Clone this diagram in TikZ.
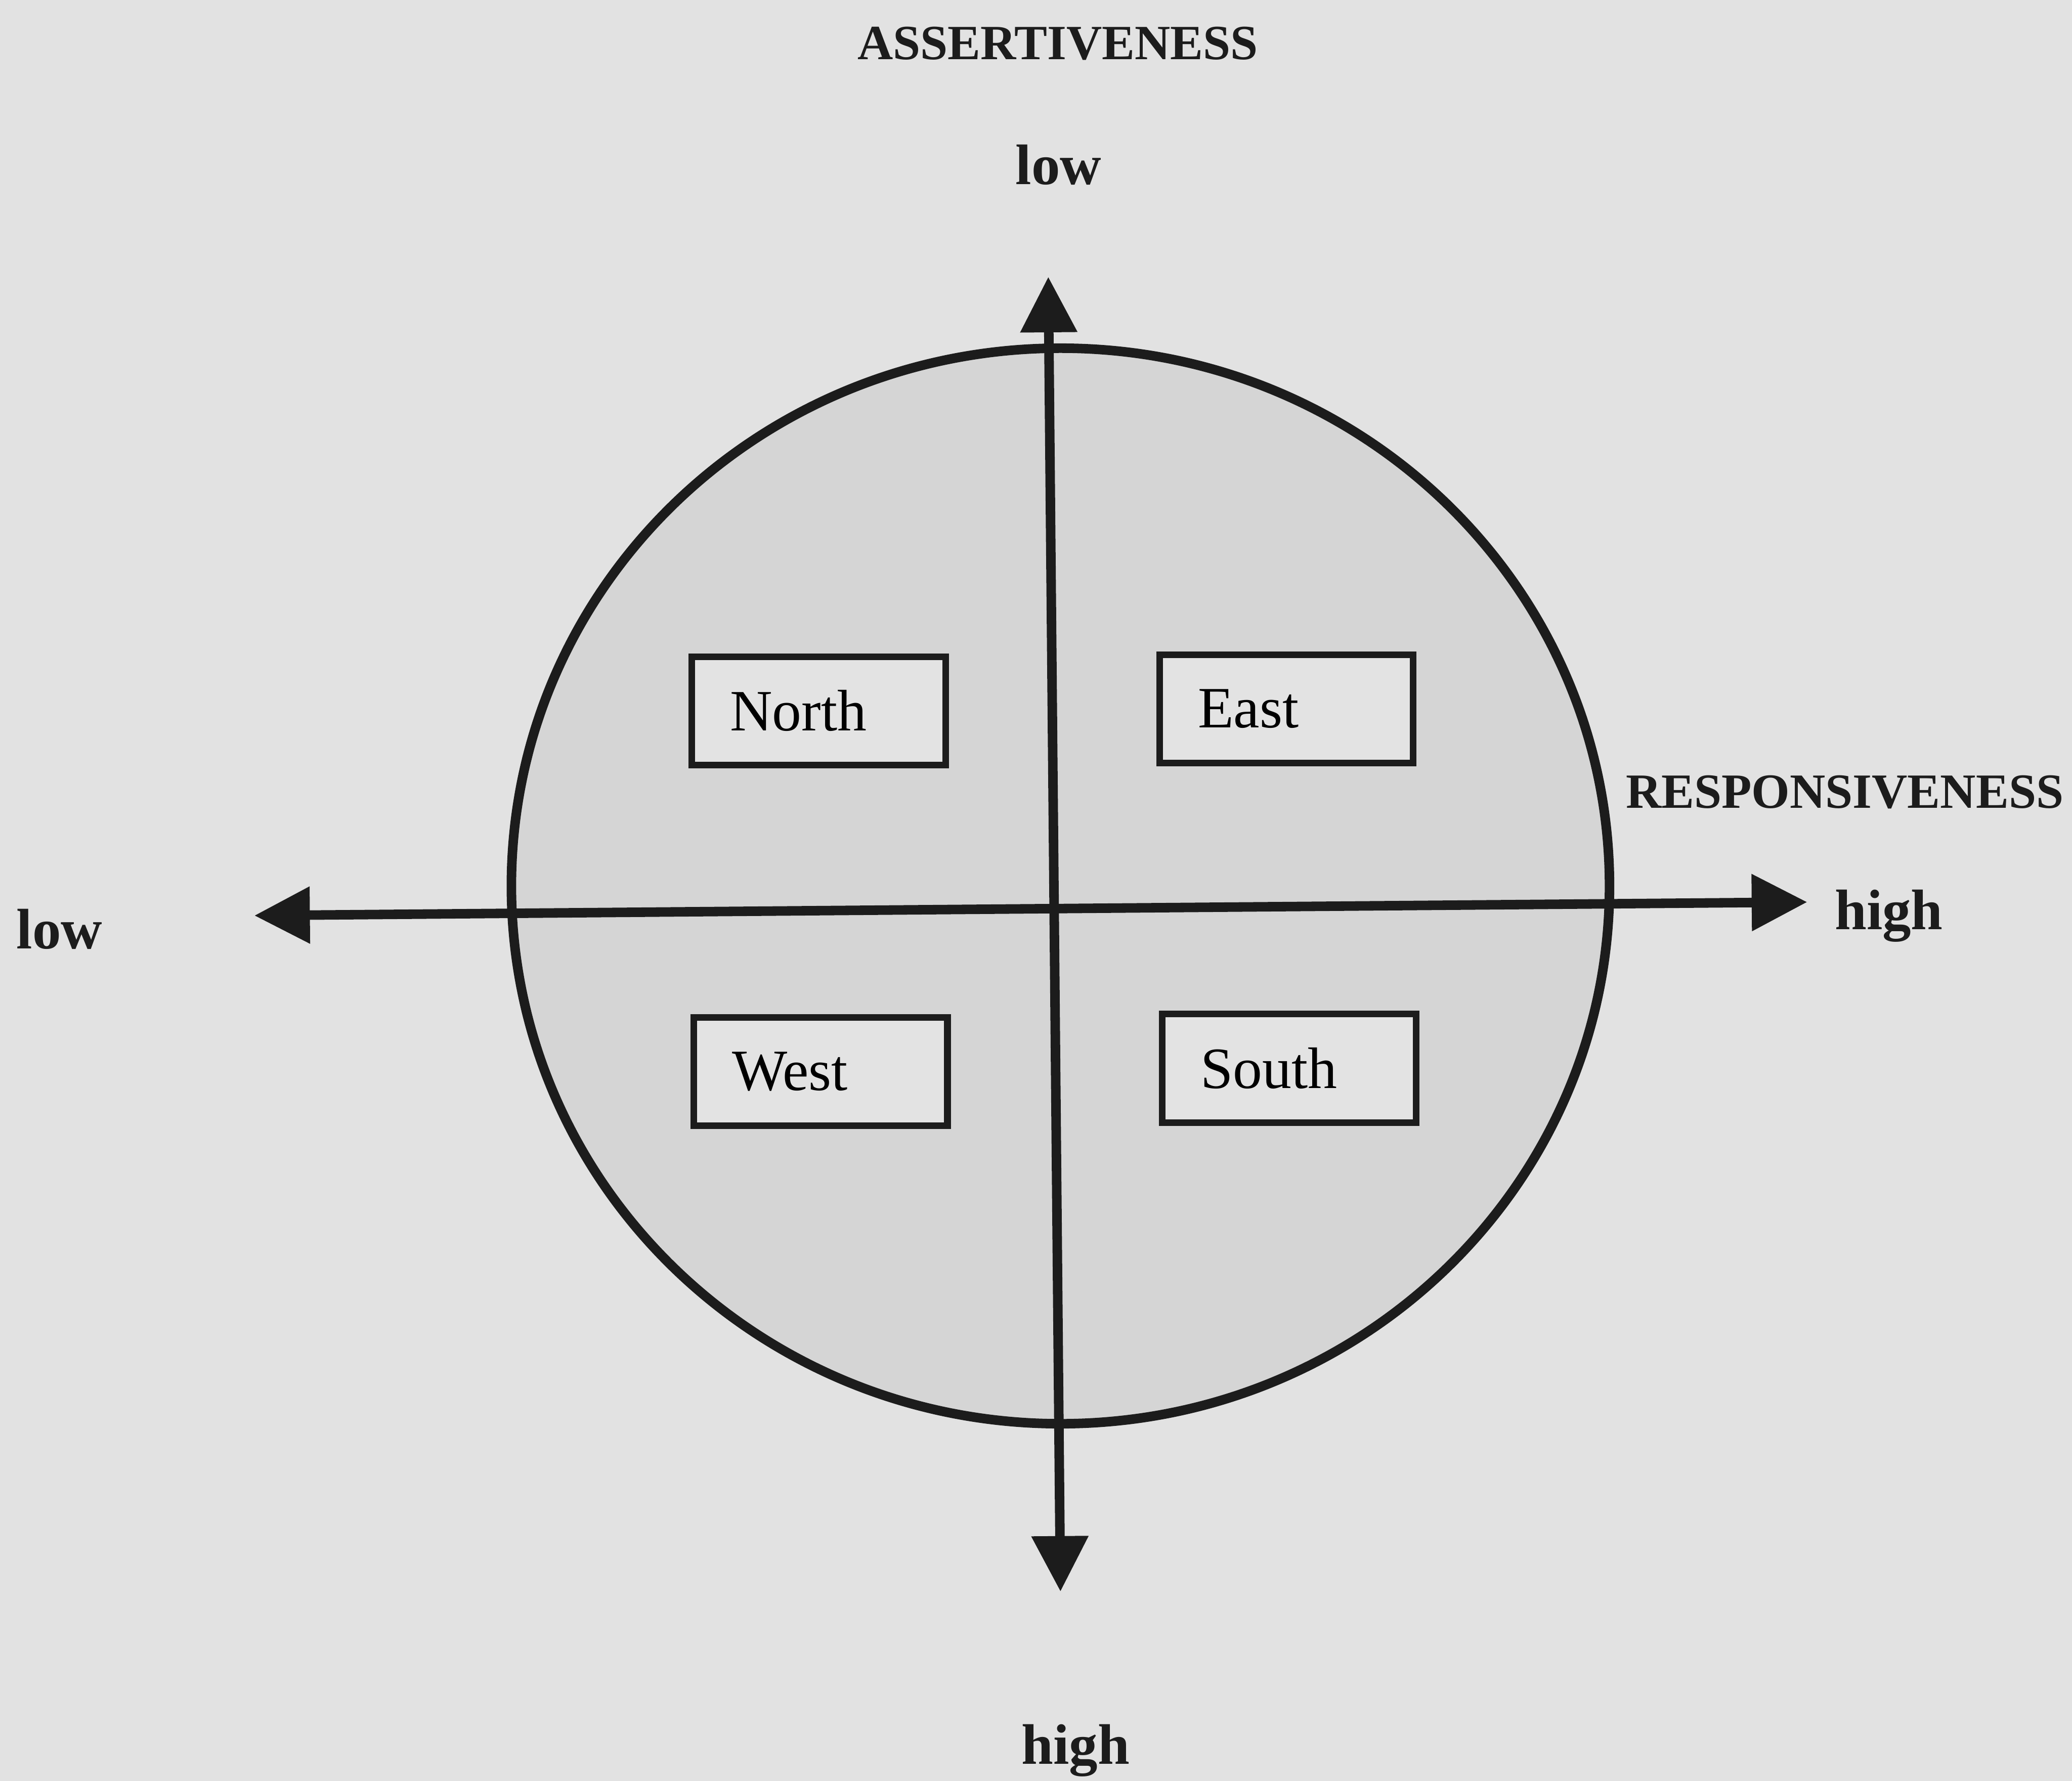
\documentclass[tikz,border=0pt]{standalone}
\usepackage{fontspec}
\setmainfont{Liberation Serif}
\usetikzlibrary{arrows.meta}
\definecolor{paper}{gray}{0.885}
\definecolor{disc}{gray}{0.835}
\definecolor{boxgrey}{gray}{0.89}
\definecolor{ink}{gray}{0.11}

\begin{document}
\begin{tikzpicture}[
  x=0.1mm, y=-0.1mm,
  quad/.style={rectangle, draw=ink, fill=boxgrey, line width=0.5mm,
               text width=13.4mm, align=left, inner xsep=2.9mm, inner ysep=0pt,
               minimum height=8.2mm, font=\fontsize{12.6}{15}\selectfont},
  axis/.style={{Triangle[length=4.2mm,width=4.15mm]}-{Triangle[length=4.2mm,width=4.15mm]},
               line width=0.72mm, draw=ink},
  pole/.style={anchor=base, text=ink, font=\fontsize{12.3}{14}\selectfont\bfseries},
  title/.style={anchor=base, text=ink, font=\fontsize{10.6}{13}\selectfont\bfseries}
]
  \fill[paper, use as bounding box] (0,0) rectangle (1568,1347.7);

  % the circle
  \draw[draw=ink, fill=disc, line width=0.72mm] (802.5,670.5) ellipse [x radius=415.5, y radius=407];

  % quadrant boxes
  \node[quad] (north) at (619.5,538) {North};
  \node[quad] (east) at (973.5,536.5) {East};
  \node[quad] (west) at (621,811) {West};
  \node[quad] (south) at (975.5,808.5) {South};

  % axes
  \coordinate (axTop) at (793.3,209.5);
  \coordinate (axBot) at (802.5,1204.5);
  \coordinate (axLeft) at (192.5,692.9);
  \coordinate (axRight) at (1367.6,682.7);
  \draw[axis] (axTop) -- (axBot);
  \draw[axis] (axLeft) -- (axRight);

  % labels
  \node[title] (assert) at (800.5,45) {ASSERTIVENESS};
  \node[pole] (alow) at (801,139.5) {low};
  \node[pole] (ahigh) at (814,1335) {high};
  \node[title] (resp) at (1396,611.5) {RESPONSIVENESS};
  \node[pole] (rlow) at (45,718) {low};
  \node[pole] (rhigh) at (1429.4,703.3) {high};
\end{tikzpicture}
\end{document}
